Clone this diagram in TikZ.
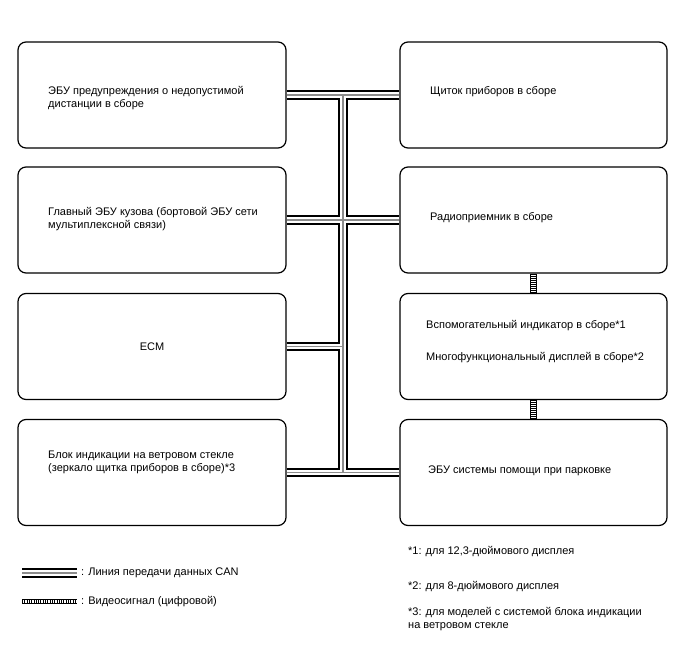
\documentclass[tikz,border=0pt]{standalone}
\usepackage{fontspec}
\setmainfont{Liberation Sans}
\begin{document}
\begin{tikzpicture}[x=1pt,y=-1pt,
  box/.style={draw=black, line width=1.2pt, rounded corners=8pt, fill=white, minimum height=106pt, inner sep=0pt},
  lbox/.style={box, minimum width=268pt},
  rbox/.style={box, minimum width=267pt},
  txt/.style={font=\fontsize{11}{13}\selectfont, align=left, inner sep=0pt, anchor=west},
  bus/.style={draw=black, line width=9.5pt,
    postaction={draw=white, line width=5.6pt},
    postaction={draw=black!45, line width=1.2pt}},
  ladderside/.style={draw=black, line width=0.8pt},
  rungs/.style={draw=black, line width=5.5pt, dash pattern=on 0.5pt off 1.5pt}
]
\useasboundingbox[fill=white] (0,0) rectangle (688,658);

% boxes
\node[lbox] (L1) at (152,95) {};
\node[lbox] (L2) at (152,220) {};
\node[lbox] (L3) at (152,346.5) {};
\node[lbox] (L4) at (152,472.5) {};
\node[rbox] (R1) at (533.5,95) {};
\node[rbox] (R2) at (533.5,220) {};
\node[rbox] (R3) at (533.5,346.5) {};
\node[rbox] (R4) at (533.5,472.5) {};

% CAN bus
\coordinate (j1) at (343,95);
\coordinate (j3) at (343,346.5);
\coordinate (j4) at (343,472.5);
\path[bus] (L1.east) -- (R1.west) (L2.east) -- (R2.west) (L3.east) -- (j3)
  (L4.east) -- (R4.west) (j1) -- (j4);

% video signal
\path[rungs] (R2.south) -- (R3.north);
\draw[ladderside] ([xshift=-3pt]R2.south) -- ([xshift=-3pt]R3.north);
\draw[ladderside] ([xshift=3pt]R2.south) -- ([xshift=3pt]R3.north);
\path[rungs] (R3.south) -- (R4.north);
\draw[ladderside] ([xshift=-3pt]R3.south) -- ([xshift=-3pt]R4.north);
\draw[ladderside] ([xshift=3pt]R3.south) -- ([xshift=3pt]R4.north);

% box texts
\node[txt] (tL1) at (48,98.5) {ЭБУ предупреждения о недопустимой\\дистанции в сборе};
\node[txt] (tL2) at (48,219.5) {Главный ЭБУ кузова (бортовой ЭБУ сети\\мультиплексной связи)};
\node[txt, anchor=center] (tL3) at (152,346.5) {ECM};
\node[txt] (tL4) at (48,462.5) {Блок индикации на ветровом стекле\\(зеркало щитка приборов в сборе)*3};
\node[txt] (tR1) at (430,92) {Щиток приборов в сборе};
\node[txt] (tR2) at (430,218) {Радиоприемник в сборе};
\node[txt] (tR3a) at (426,326) {Вспомогательный индикатор в сборе*1};
\node[txt] (tR3b) at (426,358) {Многофункциональный дисплей в сборе*2};
\node[txt] (tR4) at (428,471) {ЭБУ системы помощи при парковке};

% legend
\coordinate (lc1) at (22,573);
\coordinate (lc2) at (77,573);
\path[bus] (lc1) -- (lc2);
\node[txt] (lt1) at (81,573) {: Линия передачи данных CAN};
\coordinate (lv1) at (22,601.5);
\coordinate (lv2) at (77,601.5);
\path[draw=black, line width=4pt, dash pattern=on 0.6pt off 1.7pt] (lv1) -- (lv2);
\draw[ladderside, line width=0.6pt] ([yshift=-2pt]lv1) -- ([yshift=-2pt]lv2);
\draw[ladderside, line width=0.6pt] ([yshift=2pt]lv1) -- ([yshift=2pt]lv2);
\node[txt] (lt2) at (81,601.5) {: Видеосигнал (цифровой)};

% footnotes
\node[txt] (f1) at (408,552) {*1: для 12,3-дюймового дисплея};
\node[txt] (f2) at (408,587) {*2: для 8-дюймового дисплея};
\node[txt] (f3) at (408,619) {*3: для моделей с системой блока индикации\\на ветровом стекле};
\end{tikzpicture}
\end{document}
